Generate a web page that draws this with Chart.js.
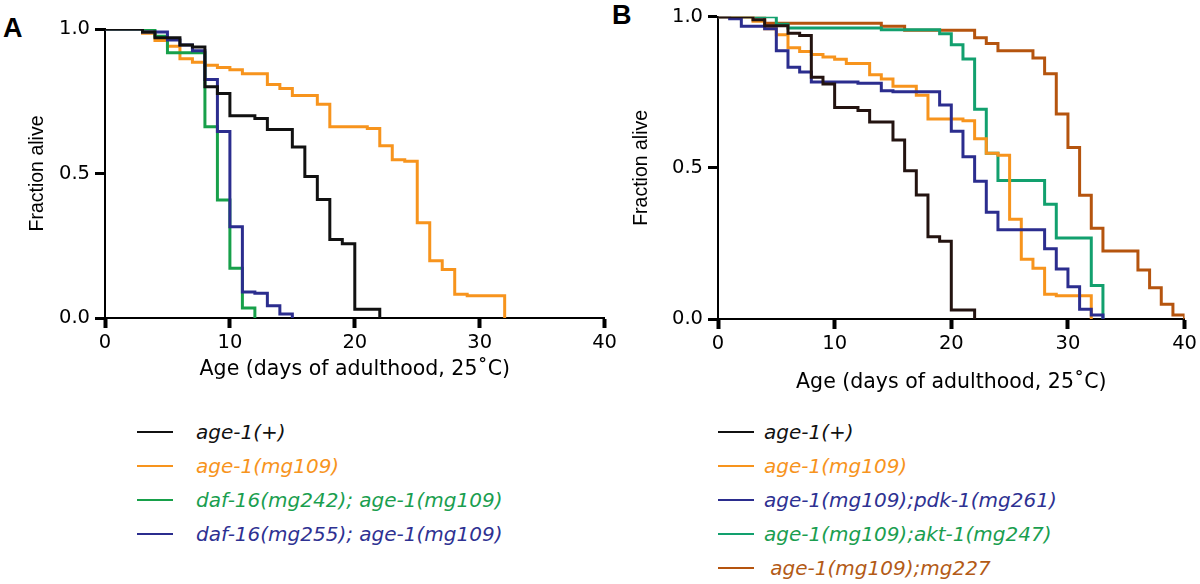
<!DOCTYPE html>
<html lang="en">
<head>
<meta charset="UTF-8">
<title>Survival curves A / B</title>
<script src="https://cdn.jsdelivr.net/npm/chart.js"></script>
<style>
    body { margin: 0; background: #fff; width: 1200px; height: 584px; overflow: hidden; position: relative; font-family: "DejaVu Sans", sans-serif; }
    .panel { position: absolute; top: 0; }
    .tag { position: absolute; font-family: "Liberation Sans", Arial, sans-serif; font-weight: bold; font-size: 27px; line-height: 1; }
    .legend { position: absolute; }
    .row { position: absolute; left: 0; height: 24px; white-space: nowrap; }
    .row .swatch { position: absolute; top: 11px; height: 2px; }
    .row .label { position: absolute; top: 0; font-style: italic; font-size: 20px; line-height: 24px; }
</style>
</head>
<body>

<div class="tag" style="left:3px; top:15px;">A</div>
<div class="tag" style="left:612px; top:2px;">B</div>

<div class="panel" style="left:0px;"><canvas id="chart-a" width="620" height="410"></canvas></div>
<div class="panel" style="left:620px;"><canvas id="chart-b" width="580" height="410"></canvas></div>

<div class="legend" id="legend-a" style="left:137px; top:420px;"></div>
<div class="legend" id="legend-b" style="left:718px; top:420px;"></div>

<script>
    // days where the fraction changes, and the fraction alive after that day
    const wtDays    = [0, 3, 4, 6, 7, 8, 9, 10, 12, 13, 15, 16, 17, 18, 19, 20, 22];
    const wtAlive   = [1.0, 0.99, 0.97, 0.945, 0.938, 0.80, 0.777, 0.70, 0.69, 0.652, 0.592, 0.49, 0.41, 0.272, 0.257, 0.03, 0];

    const mg109Days  = [0, 3, 4, 5, 6, 7, 8, 9, 10, 11, 13, 14, 15, 17, 18, 21, 22, 23, 24, 25, 26, 27, 28, 29, 32];
    const mg109Alive = [1.0, 0.985, 0.96, 0.94, 0.897, 0.885, 0.875, 0.867, 0.859, 0.845, 0.808, 0.794, 0.77, 0.74, 0.662, 0.656, 0.596, 0.548, 0.542, 0.33, 0.198, 0.168, 0.082, 0.077, 0];

    const daf242Days  = [0, 4, 5, 8, 9, 10, 11, 12];
    const daf242Alive = [1.0, 0.975, 0.918, 0.662, 0.408, 0.172, 0.035, 0];

    const daf255Days  = [0, 3, 5, 6, 7, 8, 9, 10, 11, 12, 13, 14, 15];
    const daf255Alive = [1.0, 0.99, 0.962, 0.945, 0.925, 0.825, 0.645, 0.316, 0.09, 0.086, 0.042, 0.014, 0];

    const pdkDays  = [0, 1, 2, 4, 5, 6, 7, 8, 12, 14, 15, 19, 20, 21, 22, 23, 24, 28, 29, 30, 31, 32, 33];
    const pdkAlive = [1.0, 0.993, 0.968, 0.96, 0.887, 0.833, 0.817, 0.784, 0.78, 0.755, 0.752, 0.708, 0.621, 0.537, 0.456, 0.353, 0.295, 0.232, 0.165, 0.107, 0.032, 0.013, 0];

    const aktDays  = [0, 5, 6, 14, 19, 20, 21, 22, 23, 24, 28, 29, 32, 33];
    const aktAlive = [1.0, 0.975, 0.963, 0.957, 0.944, 0.907, 0.86, 0.694, 0.548, 0.458, 0.38, 0.268, 0.111, 0];

    const mg227Days  = [0, 4, 14, 16, 22, 23, 24, 27, 28, 29, 30, 31, 32, 33, 36, 37, 38, 39, 40];
    const mg227Alive = [1.0, 0.978, 0.968, 0.955, 0.93, 0.911, 0.887, 0.863, 0.811, 0.678, 0.567, 0.409, 0.30, 0.225, 0.162, 0.103, 0.049, 0.013, 0];

    const xTicks = [0, 10, 20, 30, 40];
    const yTicks = [0, 0.5, 1.0];

    const legendA = [
        { text: 'age-1(+)', line: '#111111', color: '#111111' },
        { text: 'age-1(mg109)', line: '#f7941d', color: '#f7941d' },
        { text: 'daf-16(mg242); age-1(mg109)', line: '#17a04a', color: '#1a9e4f' },
        { text: 'daf-16(mg255); age-1(mg109)', line: '#2b2d8e', color: '#2e3192' }
    ];
    const legendB = [
        { text: 'age-1(+)', line: '#111111', color: '#111111' },
        { text: 'age-1(mg109)', line: '#f7941d', color: '#f7941d' },
        { text: 'age-1(mg109);pdk-1(mg261)', line: '#2b2d8e', color: '#2e3192' },
        { text: 'age-1(mg109);akt-1(mg247)', line: '#12a06e', color: '#1a9e50' },
        { text: '\u00a0age-1(mg109);mg227', line: '#b5540e', color: '#b35a16' }
    ];

    const tickFont = { family: 'DejaVu Sans', size: 19.5 };

    function pts(days, alive) {
        return days.map((d, i) => ({ x: d, y: alive[i] }));
    }

    function curve(days, alive, color) {
        return {
            data: pts(days, alive),
            borderColor: color,
            borderWidth: 3,
            stepped: true,
            pointRadius: 0,
            fill: false,
            tension: 0
        };
    }

    // geom: y axis box width, x axis box height, top / right padding, title offsets
    function makeChart(id, datasets, geom) {
        const ctx = document.getElementById(id).getContext('2d');
        return new Chart(ctx, {
            type: 'line',
            data: { datasets: datasets },
            options: {
                responsive: false,
                animation: false,
                devicePixelRatio: 1,
                layout: { padding: { left: 0, top: geom.top, right: geom.right, bottom: 0 } },
                plugins: { legend: { display: false }, tooltip: { enabled: false } },
                scales: {
                    x: {
                        type: 'linear',
                        min: 0, max: 40,
                        afterFit: s => { s.height = geom.xh; },
                        afterBuildTicks: s => { s.ticks = xTicks.map(v => ({ value: v })); },
                        grid: { drawOnChartArea: false, tickLength: 10, tickWidth: 4, tickColor: '#000' },
                        border: { color: '#000', width: 2 },
                        ticks: { color: '#000', font: tickFont, padding: 3, maxRotation: 0 },
                        title: {
                            display: true,
                            text: 'Age (days of adulthood, 25\u02daC)',
                            color: '#000',
                            font: { family: 'DejaVu Sans', size: 20.5, lineHeight: 1 },
                            padding: { top: 0, bottom: geom.xtb }
                        }
                    },
                    y: {
                        type: 'linear',
                        min: 0, max: 1,
                        afterFit: s => { s.width = geom.yw; },
                        afterBuildTicks: s => { s.ticks = yTicks.map(v => ({ value: v })); },
                        grid: { drawOnChartArea: false, tickLength: 10, tickWidth: 3, tickColor: '#000' },
                        border: { color: '#000', width: 2 },
                        ticks: { color: '#000', font: tickFont, padding: 5, callback: v => v.toFixed(1) },
                        title: {
                            display: true,
                            text: 'Fraction alive',
                            color: '#000',
                            font: { family: 'Liberation Sans', size: 19.5, lineHeight: 1 },
                            padding: { top: geom.ytt, bottom: 0 }
                        }
                    }
                }
            }
        });
    }

    function buildLegend(id, items) {
        const box = document.getElementById(id);
        items.forEach((it, i) => {
            const row = document.createElement('div');
            row.className = 'row';
            row.style.top = (i * 34) + 'px';
            row.innerHTML = '<div class="swatch" style="left:0; width:36px; background:' + it.line + '"></div>' +
                '<div class="label" style="left:' + (id === 'legend-a' ? 59 : 46) + 'px; color:' + it.color + '"></div>';
            row.querySelector('.label').textContent = it.text;
            box.appendChild(row);
        });
    }

    // first dataset ends up on top
    makeChart('chart-a', [
        curve(wtDays, wtAlive, '#111111'),
        curve(daf255Days, daf255Alive, '#2b2d8e'),
        curve(daf242Days, daf242Alive, '#17a04a'),
        curve(mg109Days, mg109Alive, '#f7941d')
    ], { yw: 105, xh: 92, top: 29, right: 14, xtb: 30, ytt: 28 });

    makeChart('chart-b', [
        curve(wtDays, wtAlive, '#231310'),
        curve(pdkDays, pdkAlive, '#2b2d8e'),
        curve(mg109Days, mg109Alive, '#f7941d'),
        curve(aktDays, aktAlive, '#12a06e'),
        curve(mg227Days, mg227Alive, '#b5540e')
    ], { yw: 98, xh: 91, top: 12, right: 12, xtb: 17, ytt: 12 });

    buildLegend('legend-a', legendA);
    buildLegend('legend-b', legendB);
</script>

</body>
</html>
